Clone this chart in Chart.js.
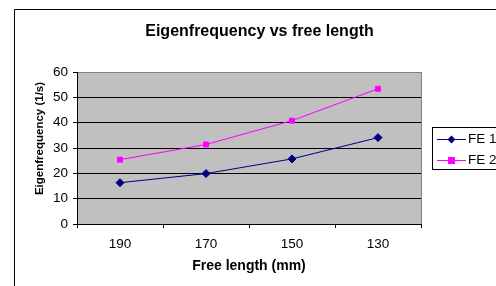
<!DOCTYPE html>
<html><head><meta charset="utf-8">
<script src="https://cdn.jsdelivr.net/npm/chart.js@4/dist/chart.umd.min.js"></script>
<style>html,body{margin:0;padding:0;background:#fff;}#wrap{width:496px;height:286px;}</style>
</head><body><div id="wrap"><canvas id="c" width="496" height="286"></canvas></div>
<script>
const categories = ['190', '170', '150', '130'];
const fe1 = [16.3, 19.9, 25.7, 34.1];
const fe2 = [25.4, 31.4, 40.8, 53.4];
const seriesNames = ['FE 1', 'FE 2'];
const chartTitle = 'Eigenfrequency vs free length';
const xTitle = 'Free length (mm)';
const yTitle = 'Eigenfrequency (1/s)';

const FONT = 'Liberation Sans, Arial, sans-serif';

const framePlugin = {
  id: 'frame',
  beforeDraw(chart) {
    const {ctx, chartArea: a} = chart;
    ctx.save();
    ctx.fillStyle = '#ffffff';
    ctx.fillRect(0, 0, chart.width, chart.height);
    ctx.strokeStyle = '#000';
    ctx.lineWidth = 1;
    ctx.beginPath();
    ctx.moveTo(14.5, chart.height + 2);
    ctx.lineTo(14.5, 9.5);
    ctx.lineTo(chart.width + 2, 9.5);
    ctx.stroke();
    ctx.fillStyle = '#c0c0c0';
    ctx.fillRect(a.left, a.top, a.right - a.left, a.bottom - a.top);
    ctx.strokeStyle = '#808080';
    ctx.beginPath();
    ctx.moveTo(a.right + 0.5, a.top);
    ctx.lineTo(a.right + 0.5, a.bottom);
    ctx.stroke();
    ctx.fillStyle = '#000';
    ctx.font = 'bold 16px ' + FONT;
    ctx.textAlign = 'center';
    ctx.textBaseline = 'middle';
    ctx.fillText(chartTitle, 259.5, 31.5);
    // y axis title
    ctx.save();
    ctx.translate(39.5, 138.5);
    ctx.rotate(-Math.PI / 2);
    ctx.font = 'bold 11.5px ' + FONT;
    ctx.fillText(yTitle, 0, 0);
    ctx.restore();
    ctx.restore();
  },
  afterDraw(chart) {
    const {ctx} = chart;
    ctx.save();
    const bx = 432.5, by = 127.5, bw = 80, bh = 42;
    ctx.fillStyle = '#fff';
    ctx.fillRect(bx, by, bw, bh);
    ctx.strokeStyle = '#000';
    ctx.lineWidth = 1;
    ctx.strokeRect(bx, by, bw, bh);
    const rows = [139.5, 160.5];
    chart.data.datasets.forEach((ds, i) => {
      const y = rows[i];
      ctx.strokeStyle = ds.borderColor;
      ctx.lineWidth = 1;
      ctx.beginPath();
      ctx.moveTo(437, y);
      ctx.lineTo(466, y);
      ctx.stroke();
      ctx.fillStyle = ds.pointBackgroundColor;
      const cx = 451.5;
      if (ds.pointStyle === 'rectRot') {
        ctx.beginPath();
        ctx.moveTo(cx, y - 4);
        ctx.lineTo(cx + 4, y);
        ctx.lineTo(cx, y + 4);
        ctx.lineTo(cx - 4, y);
        ctx.closePath();
        ctx.fill();
      } else {
        ctx.fillRect(cx - 3.5, y - 3.5, 7, 7);
      }
      ctx.fillStyle = '#000';
      ctx.font = '13.5px ' + FONT;
      ctx.textBaseline = 'middle';
      ctx.textAlign = 'left';
      ctx.fillText(ds.label, 468, y);
    });
    ctx.restore();
  }
};

new Chart(document.getElementById('c'), {
  type: 'line',
  data: {
    labels: categories,
    datasets: [
      {label: seriesNames[0], data: fe1, borderColor: '#000080', backgroundColor: '#000080',
       pointBackgroundColor: '#000080', pointBorderColor: '#000080', pointStyle: 'rectRot',
       pointRadius: 4, borderWidth: 1, tension: 0},
      {label: seriesNames[1], data: fe2, borderColor: '#ff00ff', backgroundColor: '#ff00ff',
       pointBackgroundColor: '#ff00ff', pointBorderColor: '#ff00ff', pointStyle: 'rect',
       pointRadius: 3.5, borderWidth: 1, tension: 0}
    ]
  },
  options: {
    responsive: false,
    animation: false,
    devicePixelRatio: 1,
    layout: {padding: {left: 14, top: 72, right: 75, bottom: 0}},
    plugins: {
      legend: {display: false},
      tooltip: {enabled: false},
      title: {display: false}
    },
    scales: {
      x: {
        type: 'category', offset: true,
        grid: {offset: true, drawOnChartArea: false, drawTicks: true, tickLength: 4, tickColor: '#000', color: '#000'},
        border: {display: true, color: '#000', width: 1},
        ticks: {color: '#000', font: {family: FONT, size: 13.5}, padding: 8, maxRotation: 0},
        title: {display: true, text: xTitle, color: '#000', font: {family: FONT, size: 14, weight: 'bold', lineHeight: 1.2}, padding: {top: 0, bottom: 11}},
        afterFit(s) { s.height = 62; }
      },
      y: {
        min: 0, max: 60,
        grid: {
          color: (c) => (c.tick && c.tick.value === 60 ? '#808080' : '#000'),
          tickColor: '#000', tickLength: 4, lineWidth: 1
        },
        border: {display: true, color: '#000', width: 1},
        ticks: {stepSize: 10, color: '#000', font: {family: FONT, size: 13.5}, padding: 5},
        title: {display: false},
        afterFit(s) { s.width = 63; }
      }
    }
  },
  plugins: [framePlugin]
});
</script>
</body></html>
